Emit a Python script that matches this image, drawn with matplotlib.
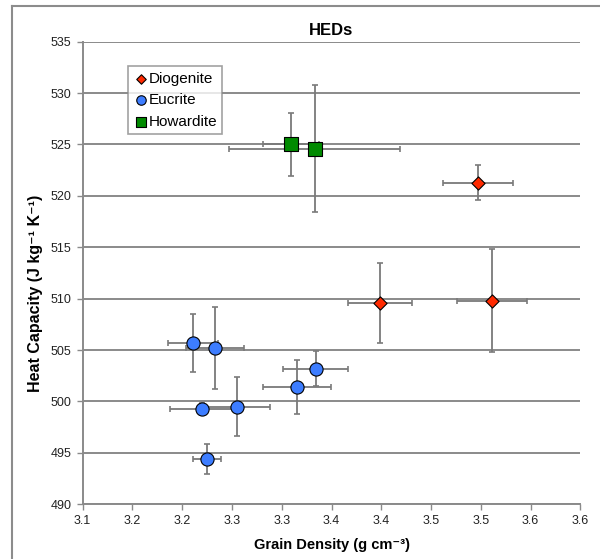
import numpy as np
import matplotlib.pyplot as plt
from matplotlib.lines import Line2D

plt.rcParams['font.family'] = ['Liberation Sans', 'DejaVu Sans']

# Diogenite
dio_x = [3.497, 3.399, 3.511]
dio_y = [521.3, 509.6, 509.8]
dio_xerr = [0.035, 0.032, 0.035]
dio_yerr = [1.7, 3.9, 5.0]

# Eucrite
euc_x = [3.211, 3.233, 3.334, 3.315, 3.220, 3.255, 3.225]
euc_y = [505.7, 505.2, 503.2, 501.4, 499.3, 499.5, 494.4]
euc_xerr = [0.025, 0.029, 0.033, 0.034, 0.032, 0.033, 0.014]
euc_yerr = [2.8, 4.0, 1.7, 2.6, 0.6, 2.9, 1.5]

# Howardite
how_x = [3.309, 3.333]
how_y = [525.0, 524.6]
how_xerr = [0.028, 0.086]
how_yerr = [3.05, 6.2]

xticks = [3.1, 3.15, 3.2, 3.25, 3.3, 3.35, 3.4, 3.45, 3.5, 3.55, 3.6]
xticklabels = ['3.1', '3.2', '3.2', '3.3', '3.3', '3.4', '3.4', '3.5', '3.5', '3.6', '3.6']
yticks = [490, 495, 500, 505, 510, 515, 520, 525, 530, 535]

fig = plt.figure(figsize=(6, 5.59), dpi=100)
ax = fig.add_axes([0.1378, 0.0979, 0.8294, 0.8275])

# grey frame (top and left edges visible only)
fx, fy = 12 / 600, 1 - 6 / 559
fig.lines.append(Line2D([fx, 1.0], [fy, fy], transform=fig.transFigure, color='#8c8c8c', linewidth=1.5))
fig.lines.append(Line2D([fx, fx], [0.0, fy], transform=fig.transFigure, color='#8c8c8c', linewidth=1.5))

for y in yticks:
    ax.axhline(y, color='#8a8a8a', linewidth=1.4, zorder=1)

eb = dict(fmt='none', ecolor='#7a7a7a', elinewidth=1.3, capsize=2.5, capthick=1.2, zorder=2)
ax.errorbar(how_x, how_y, xerr=how_xerr, yerr=how_yerr, **eb)
ax.errorbar(euc_x, euc_y, xerr=euc_xerr, yerr=euc_yerr, **eb)
ax.errorbar(dio_x, dio_y, xerr=dio_xerr, yerr=dio_yerr, **eb)

ax.scatter(dio_x, dio_y, marker='D', s=45, c='#ff2a00', edgecolors='black', linewidths=0.8,
           zorder=3, label='Diogenite')
ax.scatter(euc_x, euc_y, marker='o', s=90, c='#3d7dff', edgecolors='black', linewidths=0.8,
           zorder=3, label='Eucrite')
ax.scatter(how_x, how_y, marker='s', s=105, c='#008a00', edgecolors='black', linewidths=0.8,
           zorder=3, label='Howardite')

ax.set_xlim(3.1, 3.6)
ax.set_ylim(490, 535)
ax.set_xticks(xticks)
ax.set_xticklabels(xticklabels)
ax.set_yticks(yticks)
ax.tick_params(axis='both', labelsize=9, colors='#222222', length=4, width=1,
               color='#8a8a8a', pad=4)
for side in ['top', 'right']:
    ax.spines[side].set_visible(False)
for side in ['left', 'bottom']:
    ax.spines[side].set_color('#8a8a8a')
    ax.spines[side].set_linewidth(1.4)

ax.set_title('HEDs', fontsize=12, fontweight='bold', pad=5)
ax.set_xlabel('Grain Density (g cm⁻³)', fontsize=10.5, fontweight='bold')
ax.set_ylabel('Heat Capacity (J kg⁻¹ K⁻¹)', fontsize=11.5, fontweight='bold')
ax.xaxis.set_label_coords(0.5, -0.072)
ax.yaxis.set_label_coords(-0.08, 0.457)

leg = ax.legend(loc='upper left', bbox_to_anchor=(0.092, 0.947), fontsize=11, frameon=True,
                fancybox=False, handletextpad=0.05, borderpad=0.35, labelspacing=0.5,
                handlelength=0.9, borderaxespad=0, markerscale=0.72)
leg.get_frame().set_edgecolor('#8a8a8a')
leg.get_frame().set_linewidth(1.2)

fig.savefig('out.png', dpi=100)
